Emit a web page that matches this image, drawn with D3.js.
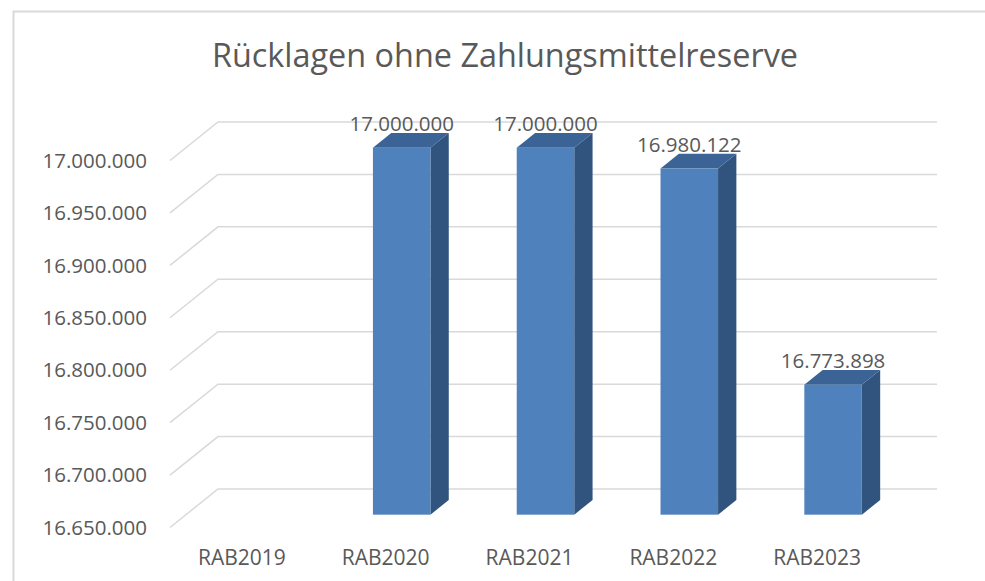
<!DOCTYPE html>
<html>
<head>
<meta charset="utf-8">
<script src="https://cdn.jsdelivr.net/npm/d3@7"></script>
<style>
  body { margin: 0; background: #fff; }
  text { font-family: "Open Sans", sans-serif; fill: #595959; }
</style>
</head>
<body>
<svg id="chart" width="985" height="581"></svg>
<script>
// Chart data
const title = "Rücklagen ohne Zahlungsmittelreserve";
const categories = ["RAB2019", "RAB2020", "RAB2021", "RAB2022", "RAB2023"];
const values = [null, 17000000, 17000000, 16980122, 16773898];
const yTicks = [16650000, 16700000, 16750000, 16800000, 16850000, 16900000, 16950000, 17000000];

const svg = d3.select("#chart");

// chart frame (cut off at right and bottom like the reference)
svg.append("rect")
  .attr("x", 13.5).attr("y", 11.5)
  .attr("width", 1200).attr("height", 800)
  .attr("fill", "none")
  .attr("stroke", "#d9d9d9")
  .attr("stroke-width", 2);

svg.append("text")
  .attr("x", 505).attr("y", 67)
  .attr("text-anchor", "middle")
  .style("font-size", "32.4px")
  .text(title);

// scales on the back wall
const x = d3.scaleBand()
  .domain(categories)
  .range([218, 937])
  .paddingInner(0.6)
  .paddingOuter(0.3);

const y = d3.scaleLinear()
  .domain([16650000, 17000000])
  .range([489, 122]);

// depth shift: d = 0 back wall, d = 1 front edge of floor
const DX = -48, DY = 38.5;
const shift = (px, py, d) => [px + DX * d, py + DY * d];

const fmt = v => d3.format(",.0f")(v).replace(/,/g, ".");

// gridlines
const grid = svg.append("g")
  .attr("stroke", "#d9d9d9")
  .attr("stroke-width", 1.5)
  .attr("fill", "none");

yTicks.forEach(t => {
  const [fx, fy] = shift(218, y(t), 1);
  grid.append("path")
    .attr("d", `M${fx},${fy}L218,${y(t)}L937,${y(t)}`);
});

// y axis labels
svg.append("g").selectAll("text")
  .data(yTicks)
  .join("text")
  .attr("x", 147)
  .attr("y", d => shift(218, y(d), 1)[1])
  .attr("dy", "0.35em")
  .attr("text-anchor", "end")
  .style("font-size", "20.5px")
  .text(fmt);

// category labels at front edge
svg.append("g").selectAll("text")
  .data(categories)
  .join("text")
  .attr("x", d => shift(x(d) + x.bandwidth() / 2, 0, 1)[0])
  .attr("y", 565)
  .attr("text-anchor", "middle")
  .style("font-size", "21px")
  .text(d => d);

// 3D bars
const dFront = 0.667, dBack = 0.285;
const bars = categories.map((c, i) => ({ c, v: values[i] })).filter(d => d.v != null);

const g = svg.append("g");
bars.forEach(b => {
  const x0 = x(b.c), x1 = x(b.c) + x.bandwidth();
  const yt = y(b.v), yb = y(16650000);
  const F = (px, py) => shift(px, py, dFront);
  const B = (px, py) => shift(px, py, dBack);
  const pts = a => a.map(p => p.join(",")).join(" ");

  // side face
  g.append("polygon")
    .attr("points", pts([F(x1, yt), B(x1, yt), B(x1, yb), F(x1, yb)]))
    .attr("fill", "#31547f");
  // top face
  g.append("polygon")
    .attr("points", pts([F(x0, yt), B(x0, yt), B(x1, yt), F(x1, yt)]))
    .attr("fill", "#3b6395");
  // front face
  const [fx0, fyt] = F(x0, yt);
  const [fx1, fyb] = F(x1, yb);
  g.append("rect")
    .attr("x", fx0).attr("y", fyt)
    .attr("width", fx1 - fx0).attr("height", fyb - fyt)
    .attr("fill", "#4f81bd");

  // value label
  g.append("text")
    .attr("x", (fx0 + fx1) / 2)
    .attr("y", fyt - 17)
    .attr("text-anchor", "middle")
    .style("font-size", "20.5px")
    .text(fmt(b.v));
});
</script>
</body>
</html>
